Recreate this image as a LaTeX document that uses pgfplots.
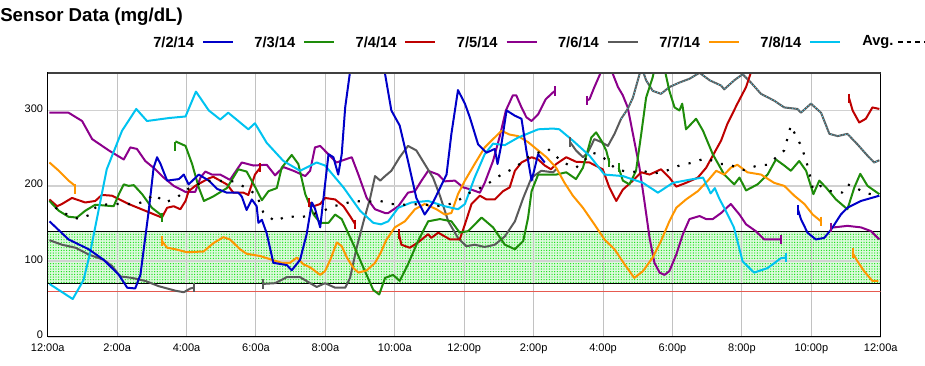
\documentclass[border=0pt]{standalone}
\usepackage{fontspec}
\setmainfont{Liberation Sans}
\usepackage{pgfplots}
\pgfplotsset{compat=1.18}
\usetikzlibrary{patterns.meta}
\definecolor{cBlue}{RGB}{0,0,200}
\definecolor{cGreen}{RGB}{30,140,10}
\definecolor{cRed}{RGB}{190,0,0}
\definecolor{cPurple}{RGB}{140,0,140}
\definecolor{cGray}{RGB}{90,90,90}
\definecolor{cOrange}{RGB}{255,150,0}
\definecolor{cCyan}{RGB}{0,195,240}
\definecolor{cLow}{RGB}{230,90,80}
\definecolor{bandLight}{RGB}{220,250,220}
\definecolor{bandDot}{RGB}{20,225,20}
\begin{document}
\begin{tikzpicture}[x=1pt,y=1pt]
\begin{axis}[
 at={(35.8pt,21.2pt)}, anchor=south west,
 scale only axis, width=624.75pt, height=198pt,
 xmin=0,xmax=24,ymin=0,ymax=350,
 xtick={0,2,...,24},
 xticklabels={12:00a,2:00a,4:00a,6:00a,8:00a,10:00a,12:00p,2:00p,4:00p,6:00p,8:00p,10:00p,12:00a},
 ytick={0,100,200,300},
 grid=major,
 x grid style={draw=black!24, line width=0.75pt},
 y grid style={draw=black!18, line width=1.3pt},
 major tick length=0pt,
 tick label style={font=\fontsize{8.25}{10}\selectfont},
 xticklabel style={yshift=-1.5pt},
 yticklabel style={yshift=1.5pt},
 /pgf/number format/assume math mode=true,
 axis line style={black,line width=0.8pt},
 set layers,
 every axis plot/.append style={line width=1.5pt, line join=round},
]
% target band
\addplot[on layer=axis background, draw=none, fill=bandLight] coordinates {(0,70)(24,70)(24,140)(0,140)(0,70)};
\addplot[on layer=axis background, draw=none, pattern={Dots[distance=2pt, radius=0.5pt]}, pattern color=bandDot] coordinates {(0,70)(24,70)(24,140)(0,140)(0,70)};
\addplot[black, line width=0.8pt] coordinates {(0,140)(24,140)};
\addplot[black, line width=0.8pt] coordinates {(0,70)(24,70)};
\addplot[cLow, line width=1.1pt] coordinates {(0,60)(24,60)};

% 7/5/14 purple
\addplot[cPurple] coordinates {(0.05,297)(0.6,297)(0.99,286)(1.28,262)(1.76,247)(2.19,235)(2.38,251)(2.57,249)(2.81,233)(3.1,222)(3.34,211)(3.63,200)(3.97,192)(4.25,192)(4.4,211)(4.54,219)(4.73,215)(4.97,215)(5.25,208)(5.59,231)(5.93,227)(6.31,228)(6.55,214)(6.79,225)(7.08,220)(7.42,213)(7.56,220)(7.7,251)(7.85,253)(8.04,244)(8.32,231)(8.57,235)(8.76,238)(8.95,215)(9.19,184)(9.43,169)(9.72,164)(9.81,164)(10.1,173)(10.38,191)(10.58,193)(10.77,207)(10.96,220)(11.25,215)(11.44,206)(11.73,207)(11.97,198)(12.21,195)(12.45,191)(12.59,204)(12.83,233)(13.02,265)(13.2,300)(13.4,320)(13.5,320)(13.65,304)(13.79,291)(13.94,286)(14.13,295)(14.35,315)(14.56,324)(14.62,326)};
\addplot[cPurple] coordinates {(15.53,313)(15.61,315)(15.75,331)(15.95,352)(16.1,380)(16.25,352)(16.43,331)(16.57,320)(16.71,304)(16.86,269)(17.05,224)(17.19,180)(17.34,131)(17.48,98)(17.63,85)(17.77,82)(17.91,87)(18.11,109)(18.3,136)(18.49,156)(18.78,160)(18.97,156)(19.16,156)(19.4,164)(19.68,176)(19.93,162)(20.12,149)(20.4,140)(20.64,129)(21.12,129)};
\addplot[cPurple] coordinates {(22.57,145)(22.66,145)(23.04,147)(23.43,145)(23.72,140)(23.96,129)};
\addplot[cPurple, only marks, mark=|, mark size=3.5pt] coordinates {(14.62,326)(15.53,313)(21.12,129)(22.57,145)};

% 7/6/14 gray
\addplot[cGray] coordinates {(0.05,128)(0.41,122)(0.8,118)(1.18,109)(1.61,102)(1.85,94)(2.09,80)(2.43,78)(2.81,74)(3.2,67)(3.68,61)(3.92,59)(4.11,64)(4.21,65)};
\addplot[cGray] coordinates {(6.19,70)(6.55,71)(6.89,79)(7.27,79)(7.56,71)(7.75,66)(7.99,71)(8.28,65)(8.57,65)(8.71,78)(8.9,118)(9.1,153)(9.29,184)(9.43,213)(9.58,207)(9.72,213)(9.9,220)(10.14,238)(10.38,253)(10.62,247)(10.86,229)(11.1,211)(11.3,187)(11.54,153)(11.82,131)(12.06,120)(12.3,122)(12.59,119)(12.88,122)(13.17,133)(13.46,153)(13.7,184)(13.94,211)(14.22,220)(14.56,218)(14.65,222)};
\addplot[cGray] coordinates {(15.05,258)(15.22,247)(15.42,238)(15.56,244)(15.75,262)(15.95,258)(16.14,253)(16.33,269)(16.52,289)(16.71,302)(16.86,317)(17.05,348)(17.12,356)(17.24,340)(17.43,326)(17.67,322)(17.91,331)(18.2,337)(18.49,342)(18.78,350)(19.07,340)(19.4,333)(19.49,328)(19.78,340)(20.02,348)(20.26,337)(20.55,322)(20.93,313)(21.22,304)(21.6,302)(21.7,297)(21.99,309)(22.28,297)(22.52,269)(22.76,266)(23.04,269)(23.33,255)(23.62,240)(23.81,231)(23.96,234)};
\addplot[cCyan!70!white, line width=0.6pt, dash pattern=on 0.6pt off 1.6pt] coordinates {(16.52,289)(16.71,302)(16.86,317)(17.05,348)(17.12,356)(17.24,340)(17.43,326)(17.67,322)(17.91,331)(18.2,337)(18.49,342)(18.78,350)(19.07,340)(19.4,333)(19.49,328)(19.78,340)(20.02,348)(20.26,337)(20.55,322)(20.93,313)(21.22,304)(21.6,302)(21.7,297)(21.99,309)(22.28,297)(22.52,269)(22.76,266)(23.04,269)(23.33,255)(23.62,240)(23.81,231)(23.96,234)};
\addplot[cGray, only marks, mark=|, mark size=3.5pt] coordinates {(4.21,65)(6.19,70)(15.05,258)};

% 7/4/14 red
\addplot[cRed] coordinates {(0.05,182)(0.27,173)(0.41,176)(0.7,184)(1.08,178)(1.37,180)(1.56,188)(1.85,187)(2.33,176)(2.81,167)(3.29,158)(3.44,171)(3.63,173)(3.82,169)(3.97,180)(4.06,193)(4.25,200)(4.64,210)(4.77,212)(5.16,202)(5.35,191)(5.64,191)(5.78,188)(5.97,215)(6.12,224)};
\addplot[cRed] coordinates {(7.54,178)(7.66,173)(7.85,176)(7.99,184)(8.28,182)(8.52,173)(8.71,160)(8.86,149)};
\addplot[cRed] coordinates {(10.12,136)(10.19,122)(10.43,118)(10.67,125)(10.96,136)(11.05,131)(11.25,138)(11.59,129)(11.87,129)(12.02,149)(12.21,176)(12.45,187)(12.64,182)(12.88,182)(13.12,193)(13.31,198)(13.46,220)(13.65,231)(13.94,238)(14.13,235)(14.32,227)(14.5,222)(14.65,229)(14.94,238)(15.22,232)(15.61,231)(15.99,222)(16.18,198)(16.38,180)(16.57,195)(16.86,207)(17.1,218)(17.34,215)(17.67,222)(17.91,211)(18.11,199)(18.39,204)(18.73,211)(18.97,224)(19.16,240)(19.4,260)(19.58,282)(19.87,309)(20.12,331)(20.4,370)};
\addplot[cRed] coordinates {(23.09,316)(23.19,300)(23.38,284)(23.57,289)(23.76,304)(23.96,302)};
\addplot[cRed, only marks, mark=|, mark size=3.5pt] coordinates {(6.12,224)(7.54,178)(8.86,149)(10.12,136)(23.09,316)};

% 7/3/14 green
\addplot[cGreen] coordinates {(0.05,180)(0.32,167)(0.6,159)(0.84,158)(1.08,167)(1.37,175)(1.9,173)(2.05,189)(2.19,202)(2.33,200)(2.48,201)(2.72,189)(3.0,171)(3.25,162)(3.29,158)};
\addplot[cGreen] coordinates {(3.68,259)(3.97,253)(4.16,229)(4.35,198)(4.5,180)(4.77,186)(5.16,197)(5.49,222)(5.73,219)(5.97,199)(6.17,181)(6.36,193)(6.6,197)(6.74,224)(7.03,241)(7.22,229)(7.42,189)(7.66,162)(7.85,151)(8.09,151)(8.28,162)(8.47,156)(8.81,122)(9.1,91)(9.38,62)(9.55,56)(9.72,78)(9.95,82)(10.14,74)(10.38,96)(10.67,127)(10.96,153)(11.3,156)(11.63,153)(11.87,138)(12.11,140)(12.5,158)(12.83,145)(13.17,122)(13.46,116)(13.7,127)(13.84,158)(13.94,193)(14.13,215)(14.41,215)(14.65,215)(14.94,218)(15.22,209)(15.42,224)(15.66,264)(15.8,271)(15.95,260)(16.09,247)(16.18,231)};
\addplot[cGreen] coordinates {(16.45,224)(16.57,207)(16.76,202)(16.95,220)(17.1,269)(17.24,317)(17.43,344)(17.55,370)(17.7,370)(17.91,326)(18.06,304)(18.2,300)(18.28,309)(18.39,275)(18.68,289)(18.88,273)(19.16,242)(19.49,215)(19.78,202)(19.93,211)(20.12,194)(20.45,202)(20.74,215)(20.98,235)(21.22,227)(21.41,220)(21.65,233)(21.85,220)(22.06,189)(22.23,207)(22.42,198)(22.71,182)(23.04,169)(23.24,198)(23.41,216)(23.62,200)(23.96,189)};
\addplot[cGreen, only marks, mark=|, mark size=3.5pt] coordinates {(3.29,158)(3.68,252)(16.18,231)(16.45,224)};

% 7/7/14 orange
\addplot[cOrange] coordinates {(0.05,231)(0.32,220)(0.6,207)(0.79,200)};
\addplot[cOrange] coordinates {(3.29,127)(3.44,118)(3.68,116)(4.01,112)(4.49,113)(4.77,124)(5.06,132)(5.25,129)(5.54,116)(5.73,110)(6.12,107)(6.46,102)(6.74,98)(6.98,98)(7.18,105)(7.37,96)(7.56,92)(7.85,82)(7.99,87)(8.14,102)(8.33,125)(8.47,120)(8.62,105)(8.81,91)(8.95,85)(9.19,88)(9.43,98)(9.6,112)(9.75,128)(10,145)(10.29,153)(10.58,169)(10.86,176)(11.2,169)(11.44,162)(11.63,164)(11.82,189)(12.02,207)(12.3,229)(12.59,251)(12.83,262)(13.07,273)(13.31,268)(13.55,266)(13.84,258)(14.13,247)(14.37,238)(14.65,224)(14.89,204)(15.13,187)(15.42,171)(15.75,149)(16.04,129)(16.33,116)(16.62,96)(16.9,78)(17.15,87)(17.43,105)(17.67,127)(17.91,153)(18.11,171)(18.39,182)(18.73,193)(19.02,207)(19.26,220)(19.49,215)(19.68,224)(19.87,228)(20.16,218)(20.55,215)(20.93,204)(21.22,200)(21.51,187)(21.8,176)(22.04,162)(22.28,153)};
\addplot[cOrange] coordinates {(23.19,111)(23.33,100)(23.52,87)(23.76,74)(23.93,74)};
\addplot[cOrange, only marks, mark=|, mark size=3.5pt] coordinates {(0.79,196)(3.29,127)(22.28,153)(23.19,111)};

% 7/8/14 cyan
\addplot[cCyan] coordinates {(0.05,70)(0.72,50)(1.03,75)(1.22,111)(1.41,155)(1.7,222)(2.14,273)(2.55,302)(2.86,286)(3.5,290)(3.97,292)(4.27,325)(4.64,300)(4.97,288)(5.2,297)(5.78,275)(5.97,283)(6.31,257)(6.79,233)(7.27,220)(7.75,231)(7.99,227)(8.52,198)(9.0,167)(9.38,151)(9.6,149)(9.81,153)(10.1,171)(10.48,178)(10.96,180)(11.44,173)(11.82,169)(12.02,176)(12.3,211)(12.59,242)(12.83,256)(13.17,254)(13.55,264)(14.13,275)(14.56,276)(14.74,275)(15.13,260)(15.61,240)(16.04,215)(16.57,213)(17.15,204)(17.58,191)(18.01,204)(18.59,209)(18.88,211)(19.1,190)(19.22,197)(19.35,183)(19.5,170)(19.77,145)(20.02,100)(20.35,85)(20.74,91)(21.12,104)(21.27,105)};
\addplot[cCyan, only marks, mark=|, mark size=3.5pt] coordinates {(21.27,105)};

% 7/2/14 blue
\addplot[cBlue] coordinates {(0.05,153)(0.6,129)(1.18,116)(1.61,102)(2.05,82)(2.29,65)(2.52,64)(2.67,82)(2.91,167)(3.05,224)(3.15,238)(3.25,229)(3.44,207)(3.78,209)(3.92,215)(4.06,202)(4.35,215)(4.64,207)(4.88,196)(5.16,191)(5.49,191)(5.59,186)(5.73,168)(5.88,182)(6.02,173)(6.07,151)(6.17,155)(6.31,137)(6.5,98)(6.89,95)(7.03,88)(7.27,102)(7.46,136)(7.61,178)(7.7,170)(7.85,145)(7.99,202)(8.09,242)(8.23,238)(8.37,215)(8.47,242)(8.57,304)(9.15,500)(9.9,300)(10.14,280)(10.38,233)(10.62,184)(10.86,162)(11.1,178)(11.49,215)(11.63,269)(11.82,327)(12.02,309)(12.16,291)(12.4,255)(12.64,244)(12.88,249)(12.96,229)(13.07,255)(13.22,300)(13.46,293)(13.65,289)(13.79,247)(13.94,207)(14.13,242)(14.32,231)};
\addplot[cBlue] coordinates {(21.62,168)(21.7,156)(21.89,138)(22.13,129)(22.37,131)(22.57,142)(22.85,162)(23.04,171)(23.43,180)(23.96,187)};
\addplot[cBlue, only marks, mark=|, mark size=3.5pt] coordinates {(21.62,168)};

% Avg
\addplot[black, line width=1.6pt, dash pattern=on 1.6pt off 7pt] coordinates {(0.22,171)(0.56,162)(0.89,156)(1.23,162)(1.37,171)(1.56,175)(2.05,176)(2.57,176)(2.86,181)(3.05,189)(3.39,178)(3.73,185)(4.16,200)(4.69,207)(5.35,206)(5.73,197)(6.02,188)(6.21,165)(6.55,153)(6.89,160)(7.27,158)(7.61,162)(7.94,167)(8.23,173)(8.52,176)(8.81,180)(9.19,179)(9.58,180)(9.9,176)(10.29,175)(10.77,176)(11.2,173)(11.59,176)(11.87,182)(12.16,191)(12.59,200)(13.07,215)(13.46,224)(13.84,238)(14.13,244)(14.41,249)(14.84,231)(15.22,224)(15.7,244)(15.95,240)(16.38,222)(16.76,218)(17.15,220)(17.43,216)(17.82,220)(18.2,227)(18.59,231)(18.97,237)(19.36,229)(19.58,229)(20.06,221)(20.45,227)(20.74,228)(21.22,247)(21.41,280)(21.56,266)(21.72,252)(21.91,224)(22.05,195)(22.26,200)(22.42,195)(22.71,191)(22.88,191)(23.04,202)(23.24,199)(23.52,191)(23.72,189)};

\draw[black!75, line width=1.5pt] (rel axis cs:0,1) -- (rel axis cs:1,1);
\node[anchor=west, font=\fontsize{8.25}{10}\selectfont, inner sep=1pt] at (axis cs:24,140) {140};
\node[anchor=west, font=\fontsize{8.25}{10}\selectfont, inner sep=1pt] at (axis cs:24,70) {70};
\node[anchor=west, font=\fontsize{8.25}{10}\selectfont, inner sep=1pt] at (axis cs:24,51) {60};
\end{axis}

% title
\node[anchor=west, font=\bfseries\fontsize{14}{16}\selectfont, inner sep=0pt] at (0,261) {Sensor Data (mg/dL)};
% legend
\begin{scope}[every node/.style={anchor=west, font=\bfseries\fontsize{11}{13}\selectfont, inner sep=0pt}]
\node at (114.75,242.25) {7/2/14}; \draw[cBlue, line width=1.5pt] (152.25,242.25) -- (174.75,242.25);
\node at (190.65,242.25) {7/3/14}; \draw[cGreen, line width=1.5pt] (228.15,242.25) -- (250.65,242.25);
\node at (266.55,242.25) {7/4/14}; \draw[cRed, line width=1.5pt] (304.05,242.25) -- (326.55,242.25);
\node at (342.45,242.25) {7/5/14}; \draw[cPurple, line width=1.5pt] (379.95,242.25) -- (402.45,242.25);
\node at (418.35,242.25) {7/6/14}; \draw[cGray, line width=1.5pt] (455.85,242.25) -- (478.35,242.25);
\node at (494.25,242.25) {7/7/14}; \draw[cOrange, line width=1.5pt] (531.75,242.25) -- (554.25,242.25);
\node at (570.15,242.25) {7/8/14}; \draw[cCyan, line width=1.5pt] (607.65,242.25) -- (630.15,242.25);
\node at (646.5,242.25) {Avg.}; \draw[black, line width=1.5pt, dash pattern=on 3.5pt off 3pt] (673.5,242.25) -- (693.75,242.25);
\end{scope}
\pgfresetboundingbox
\useasboundingbox (0,0) rectangle (693.75,273.75);
\end{tikzpicture}
\end{document}
